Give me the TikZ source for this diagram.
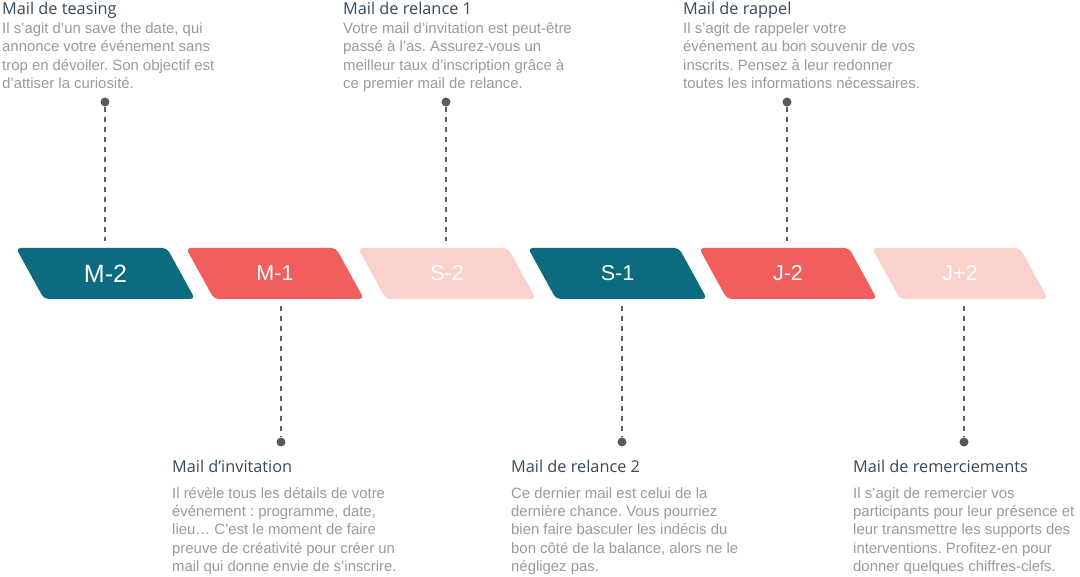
\documentclass[tikz,border=0pt]{standalone}
\usepackage{fontspec}
\setmainfont{Liberation Sans}
\newfontfamily\titlefont{Open Sans}
\frenchspacing
\definecolor{teal}{HTML}{0C6B7F}
\definecolor{coral}{HTML}{F05E5E}
\definecolor{pink}{HTML}{FBD2CB}
\definecolor{titlecol}{HTML}{34495A}
\definecolor{bodycol}{HTML}{9A9A9A}
\definecolor{dotcol}{HTML}{58595B}
\definecolor{dashcol}{HTML}{5E5E60}
\newcommand\para[5]{%
  \fill[#4, rounded corners=4.5pt] (#2,248) -- ({#2+#3},248) -- ({#2+#3+28},299) -- ({#2+28},299) -- cycle;
  \node[lbl] (#1) at ({#2+14+#3/2},273.5) {#5};}
\newcommand\tblock[6]{%
  \node[ttl] (#1t) at (#2,#3) {#5};
  \foreach \myline [count=\i] in {#6}
    \node[bodytxt] (#1l\i) at (#2,{#4+18.4*(\i-1)}) {\myline};}
\begin{document}
\begin{tikzpicture}[x=1pt,y=-1pt,
  ttl/.style={anchor=base west, inner sep=0pt, font=\titlefont\fontsize{16.3}{19}\selectfont, text=titlecol},
  bodytxt/.style={anchor=base west, inner sep=0pt, font=\fontsize{14.9}{18}\selectfont, text=bodycol},
  lbl/.style={text=white, inner sep=0pt, font=\fontsize{21.5}{24}\selectfont},
  dashline/.style={draw=dashcol, line width=1.6pt, dash pattern=on 5pt off 5pt},
  dot/.style={circle, fill=dotcol, minimum size=9pt, inner sep=0pt}]
\useasboundingbox (0,0) rectangle (1080,577);

% timeline shapes
\para{m2}{16}{151}{teal}{\fontsize{25}{28}\selectfont M-2}
\para{m1}{186}{150}{coral}{M-1}
\para{s2}{358}{150}{pink}{S-2}
\para{s1}{528}{151}{teal}{S-1}
\para{j2}{699}{150}{coral}{J-2}
\para{jp2}{872}{148}{pink}{J+2}

% top texts
\tblock{a}{2}{15}{33.5}{Mail de teasing}{{Il s’agit d’un save the date, qui},{annonce votre événement sans},{trop en dévoiler. Son objectif est},{d’attiser la curiosité.}}
\tblock{c}{343}{15}{33.5}{Mail de relance 1}{{Votre mail d’invitation est peut-être},{passé à l’as. Assurez-vous un},{meilleur taux d’inscription grâce à},{ce premier mail de relance.}}
\tblock{e}{683}{15}{33.5}{Mail de rappel}{{Il s’agit de rappeler votre},{événement au bon souvenir de vos},{inscrits. Pensez à leur redonner},{toutes les informations nécessaires.}}

% bottom texts
\tblock{b}{172}{473}{498}{Mail d’invitation}{{Il révèle tous les détails de votre},{événement : programme, date,},{lieu… C’est le moment de faire},{preuve de créativité pour créer un},{mail qui donne envie de s’inscrire.}}
\tblock{d}{511}{473}{498}{Mail de relance 2}{{Ce dernier mail est celui de la},{dernière chance. Vous pourriez},{bien faire basculer les indécis du},{bon côté de la balance, alors ne le},{négligez pas.}}
\tblock{f}{853}{473}{498}{Mail de remerciements}{{Il s’agit de remercier vos},{participants pour leur présence et},{leur transmettre les supports des},{interventions. Profitez-en pour},{donner quelques chiffres-clefs.}}

% dots and connectors
\node[dot] (da) at (105,102) {};
\node[dot] (dc) at (446,102) {};
\node[dot] (de) at (787,102) {};
\node[dot] (db) at (281,442) {};
\node[dot] (dd) at (622,442) {};
\node[dot] (df) at (964,442) {};
\coordinate (ca) at (105,241);
\coordinate (cc) at (446,241);
\coordinate (ce) at (787,241);
\coordinate (cb) at (281,306);
\coordinate (cd) at (622,306);
\coordinate (cf) at (964,306);
\draw[dashline] (da) -- (ca);
\draw[dashline] (dc) -- (cc);
\draw[dashline] (de) -- (ce);
\draw[dashline] (cb) -- (db);
\draw[dashline] (cd) -- (dd);
\draw[dashline] (cf) -- (df);
\end{tikzpicture}
\end{document}
